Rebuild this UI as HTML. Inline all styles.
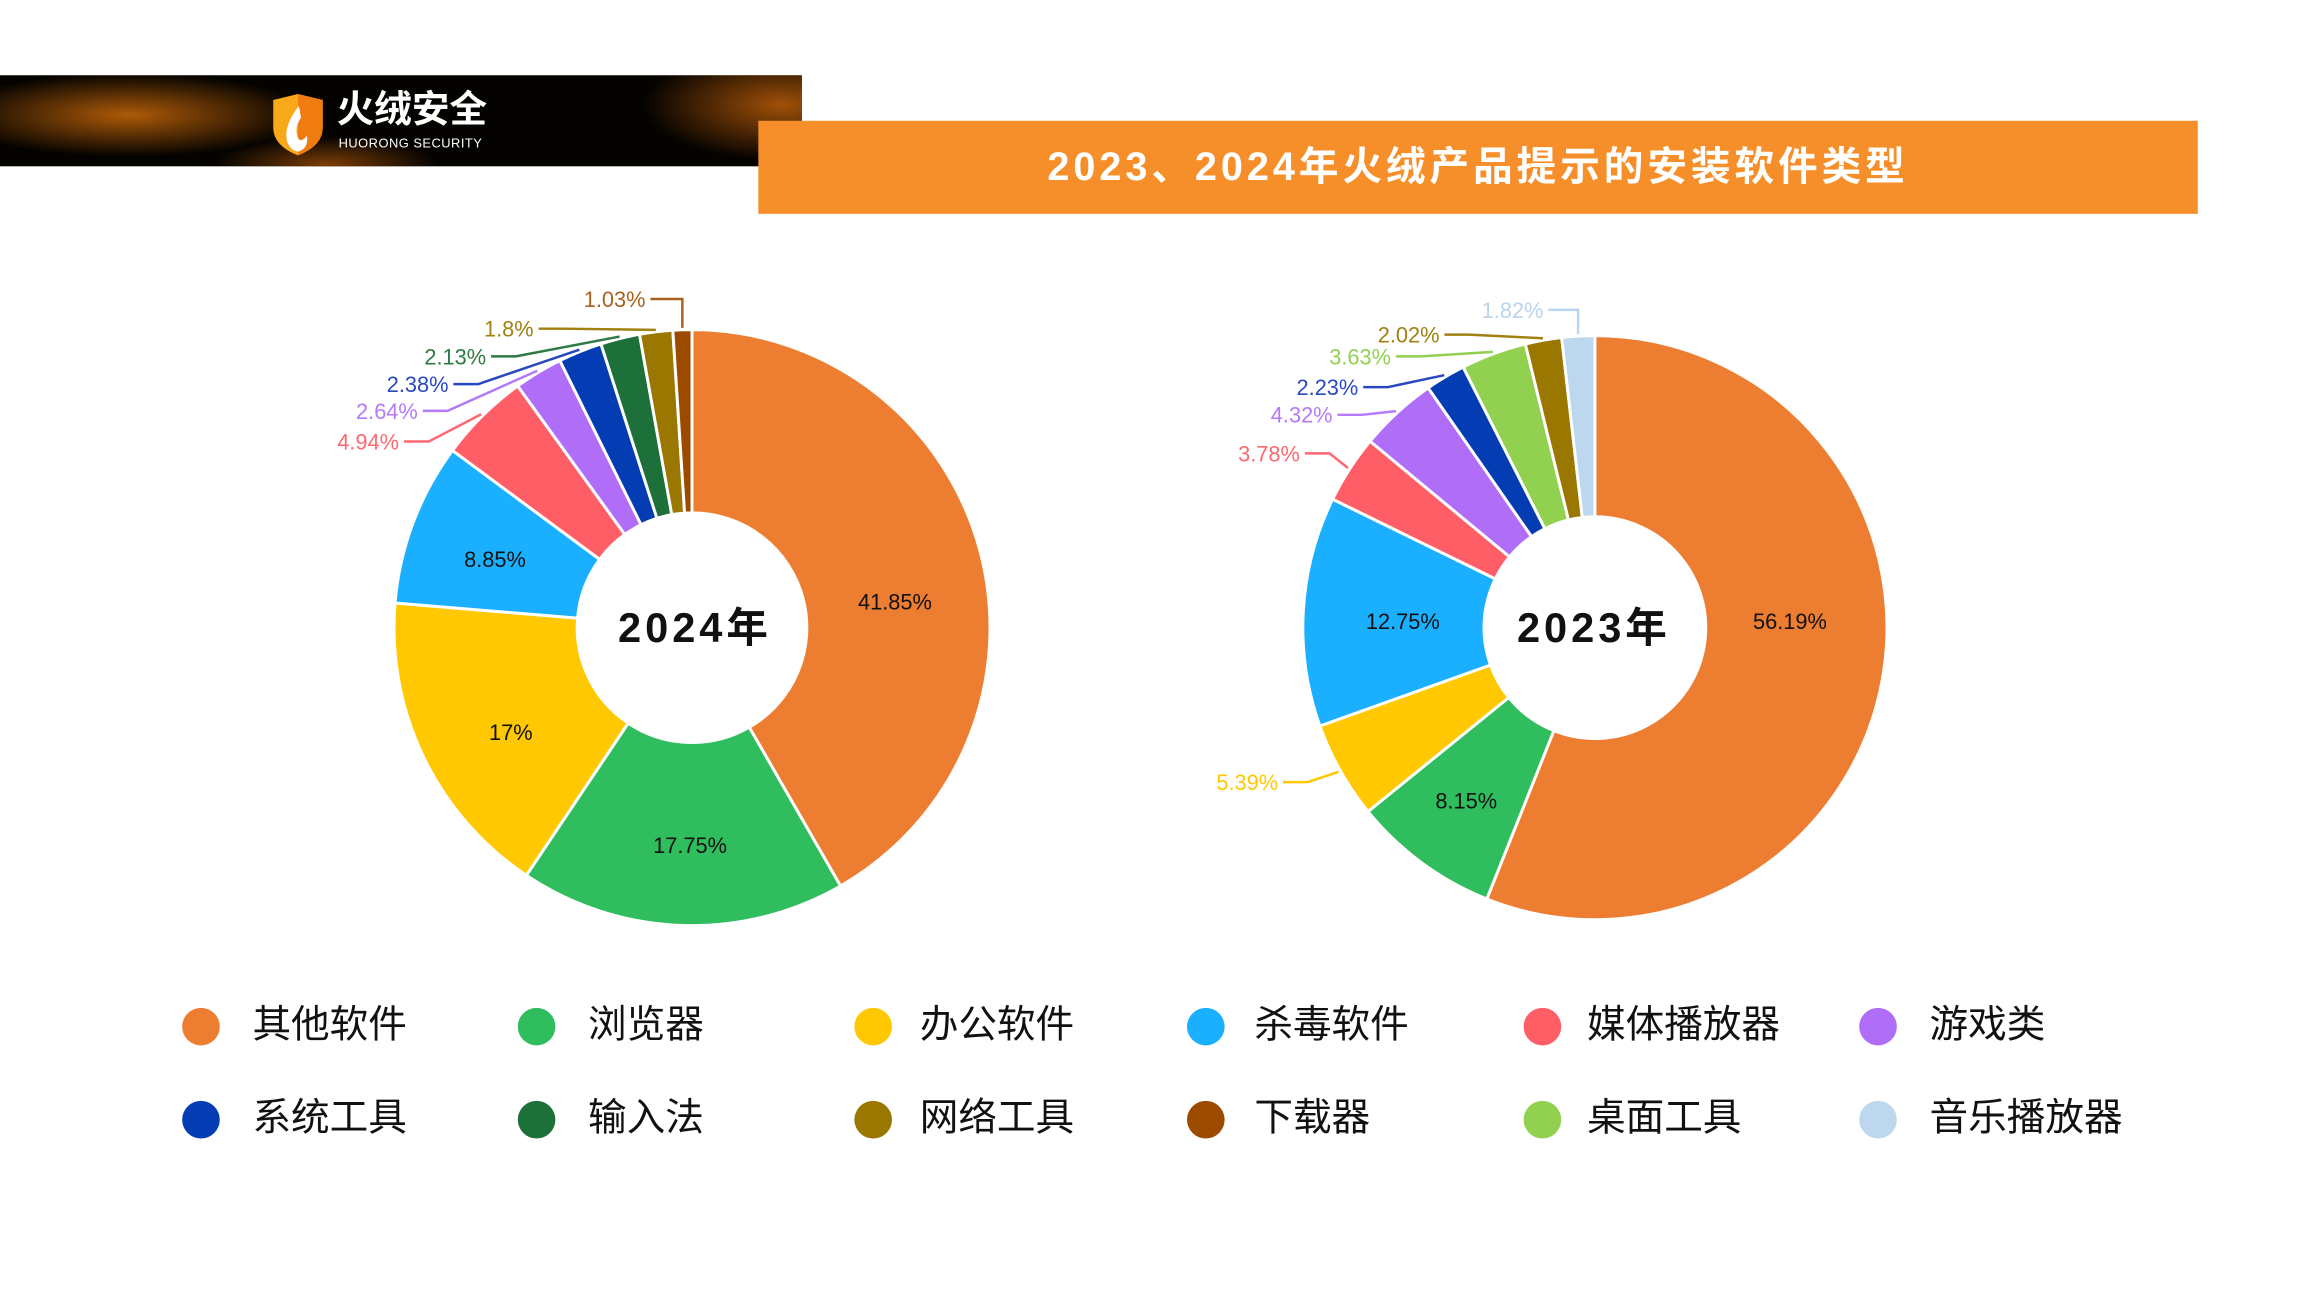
<!DOCTYPE html>
<html><head><meta charset="utf-8"><style>
body{margin:0;width:2300px;height:1293px;background:#fff;overflow:hidden;font-family:"Liberation Sans","Noto Sans CJK SC",sans-serif;position:relative}
#wrap{position:absolute;left:0;top:0;width:2300px;height:1293px;transform:scale(0.99);transform-origin:0 0}
.banner{position:absolute;left:0;top:76px;width:810px;height:92px;background:radial-gradient(ellipse 260px 60px at 130px 40px,rgba(230,120,10,.75),rgba(0,0,0,0) 70%),radial-gradient(ellipse 200px 80px at 790px 30px,rgba(200,100,10,.8),rgba(0,0,0,0) 70%),radial-gradient(ellipse 160px 40px at 330px 90px,rgba(200,100,10,.6),rgba(0,0,0,0) 70%),#050300}
.bar{position:absolute;left:766px;top:122px;width:1454px;height:94px;background:#F68F2A}
.title{position:absolute;left:766px;width:1454px;top:122px;height:94px;line-height:94px;text-align:center;color:#fff;font-weight:bold;font-size:40px;letter-spacing:4px;font-family:"Liberation Sans","Noto Sans CJK SC",sans-serif}
.leg{position:absolute;font-size:39px;color:#111;line-height:1}
.dot{position:absolute;width:38px;height:38px;border-radius:50%}
</style></head><body><div id="wrap">
<div class="banner"></div>
<div class="bar"></div>
<div class="title">2023、2024年火绒产品提示的安装软件类型</div>
<svg style="position:absolute;left:272px;top:93px" width="58" height="66" viewBox="0 0 58 66">
<path d="M4 8 L29 2 L54 8 L54 36 Q54 54 29 64 Q4 54 4 36 Z" fill="#F8A818"/>
<path d="M29 2 L54 8 L54 36 Q54 54 29 64 Z" fill="#F07C10"/>
<path d="M30 14 Q14 34 18 50 Q22 60 30 60 Q40 56 38 44 Q34 50 30 48 Q24 38 32 26 Z" fill="#fff"/>
</svg>
<div style="position:absolute;left:340px;top:92px;color:#fff;font-weight:bold;font-size:38px;line-height:1">火绒安全</div>
<div style="position:absolute;left:342px;top:138px;color:#fff;font-size:13px;line-height:1;letter-spacing:.5px">HUORONG SECURITY</div>
<svg id="s" width="2300" height="1293" style="position:absolute;left:0;top:0"></svg>
<div id="legend"></div>
</div>
<script>
const C={o:"#ED7D31",g:"#2FBD5E",y:"#FFC800",b:"#1AB0FF",r:"#FF5E67",p:"#B06EF8",db:"#043CB4",dg:"#1E703A",ol:"#9A7700",br:"#9C4A00",lg:"#92D050",lb:"#BDD7EE"};
let out="";
function donut(cx,cy,R,r,data){
 let tot=data.reduce((a,d)=>a+d[0],0),a=0,res=[];
 for(const d of data){
  let a0=a/tot*2*Math.PI,a1=(a+d[0])/tot*2*Math.PI;a+=d[0];
  const P=(rr,t)=>[cx+rr*Math.sin(t),cy-rr*Math.cos(t)];
  let lg=(a1-a0)>Math.PI?1:0;
  let p1=P(R,a0),p2=P(R,a1),p3=P(r,a1),p4=P(r,a0);
  out+=`<path d="M${p1} A${R},${R} 0 ${lg} 1 ${p2} L${p3} A${r},${r} 0 ${lg} 0 ${p4}Z" fill="${C[d[1]]}" stroke="#fff" stroke-width="3"/>`;
  res.push(P(R+2,(a0+a1)/2));
 }
 return res;
}
const m1=donut(699,634,301,116,[[41.85,"o"],[17.75,"g"],[17,"y"],[8.85,"b"],[4.94,"r"],[2.64,"p"],[2.38,"db"],[2.13,"dg"],[1.8,"ol"],[1.03,"br"]]);
const m2=donut(1611,634,295,112,[[56.19,"o"],[8.15,"g"],[5.39,"y"],[12.75,"b"],[3.78,"r"],[4.32,"p"],[2.23,"db"],[3.63,"lg"],[2.02,"ol"],[1.82,"lb"]]);
function lab(txt,te,y,col,pt,elbow){
 out+=`<text x="${te}" y="${y+8}" text-anchor="end" font-size="22" fill="${col}" font-family="Liberation Sans,sans-serif">${txt}</text>`;
 let pts=elbow?`${te+5},${y} ${pt[0]},${y} ${pt[0]},${pt[1]}`:`${te+5},${y} ${te+30},${y} ${pt[0]},${pt[1]}`;
 out+=`<polyline points="${pts}" fill="none" stroke="${col}" stroke-width="2.5"/>`;
}
lab("1.03%",652,302,"#A8621E",m1[9],1);
lab("1.8%",539,332,"#A08010",m1[8]);
lab("2.13%",491,360,"#2E7A44",m1[7]);
lab("2.38%",453,388,"#2848C0",m1[6]);
lab("2.64%",422,415,"#B47AF8",m1[5]);
lab("4.94%",403,446,"#FF6870",m1[4]);
lab("1.82%",1559,313,"#B8D4EE",m2[9],1);
lab("2.02%",1454,338,"#A08010",m2[8]);
lab("3.63%",1405,360,"#92D050",m2[7]);
lab("2.23%",1372,391,"#2848C0",m2[6]);
lab("4.32%",1346,419,"#B47AF8",m2[5]);
lab("3.78%",1313,458,"#FF6870",m2[4]);
lab("5.39%",1291,790,"#FFC800",m2[2]);
function t(x,y,s,fs,w){out+=`<text x="${x}" y="${y}" text-anchor="middle" dominant-baseline="central" font-size="${fs}" font-weight="${w||'normal'}" fill="#111" font-family="Liberation Sans,Noto Sans CJK SC,sans-serif" ${w?'letter-spacing="4"':''}>${s}</text>`;}
t(904,608,"41.85%",22);t(697,854,"17.75%",22);t(516,740,"17%",22);t(500,565,"8.85%",22);
t(1808,628,"56.19%",22);t(1481,809,"8.15%",22);t(1417,628,"12.75%",22);
t(702,634,"2024年",42,"bold");t(1610,634,"2023年",42,"bold");
document.getElementById("s").innerHTML=out;
const L=[["其他软件","o"],["浏览器","g"],["办公软件","y"],["杀毒软件","b"],["媒体播放器","r"],["游戏类","p"],["系统工具","db"],["输入法","dg"],["网络工具","ol"],["下载器","br"],["桌面工具","lg"],["音乐播放器","lb"]];
const dx=[203,542,882,1218,1558,1897],tx=[255,594,929,1267,1603,1949],ry=[1037,1131];
let h="";L.forEach((l,i)=>{let c=i%6,rw=Math.floor(i/6);
h+=`<div class="dot" style="left:${dx[c]-19}px;top:${ry[rw]-19}px;background:${C[l[1]]}"></div><div class="leg" style="left:${tx[c]}px;top:${ry[rw]-21}px">${l[0]}</div>`;});
document.getElementById("legend").innerHTML=h;
</script>
</body></html>
